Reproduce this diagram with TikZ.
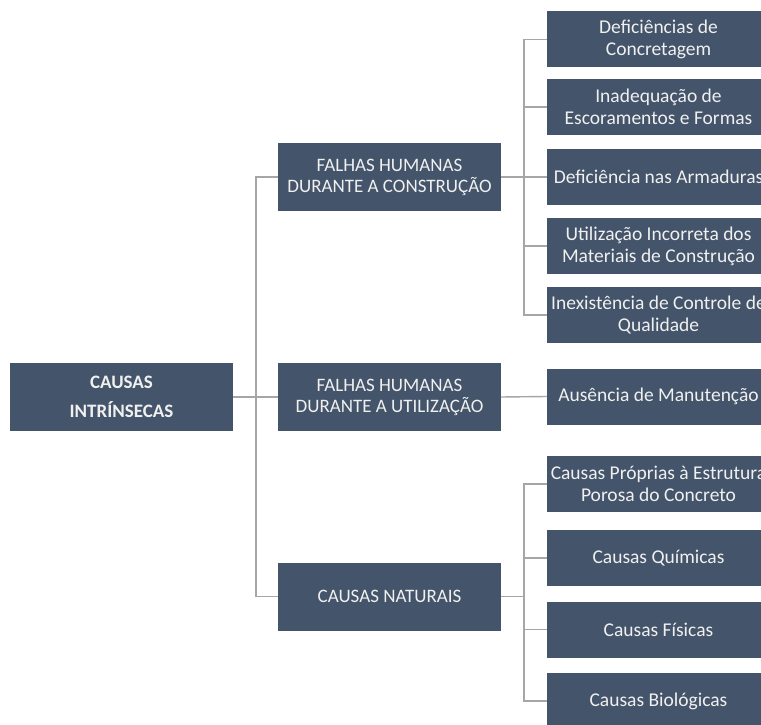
\documentclass[tikz,border=0pt]{standalone}
\usepackage{fontspec}
\setmainfont{Carlito}
\definecolor{boxfill}{HTML}{44546A}
\definecolor{boxtext}{HTML}{F0F0F0}
\definecolor{linegray}{HTML}{A6A6A6}
\begin{document}
\begin{tikzpicture}[x=1pt,y=-1pt,
  box/.style={rectangle, fill=boxfill, text=boxtext, minimum width=223pt, inner sep=0pt, align=center},
  rootbox/.style={box, minimum height=68pt, font=\fontsize{19}{29}\selectfont\bfseries},
  lonebox/.style={box, minimum height=68pt, font=\fontsize{19}{21}\selectfont},
  ltwobox/.style={box, minimum height=56pt, font=\fontsize{19.5}{22}\selectfont},
  conn/.style={draw=linegray, line width=1.4pt}]
\useasboundingbox (0,0) rectangle (761,725);
\clip (0,0) rectangle (761,725);
\fill[white] (0,0) rectangle (761,725);
\node[rootbox] (root) at (121.5,397) {CAUSAS\\INTRÍNSECAS};
\node[lonebox] (fa) at (389.5,177) {FALHAS HUMANAS\\DURANTE A CONSTRUÇÃO};
\node[lonebox] (fb) at (389.5,397) {FALHAS HUMANAS\\DURANTE A UTILIZAÇÃO};
\node[lonebox] (fc) at (389.5,596.5) {CAUSAS NATURAIS};
\node[ltwobox] (d1) at (658.5,39.5) {Deficiências de\\Concretagem};
\node[ltwobox] (d2) at (658.5,107) {Inadequação de\\Escoramentos e Formas};
\node[ltwobox] (d3) at (658.5,177) {Deficiência nas Armaduras};
\node[ltwobox] (d4) at (658.5,246) {Utilização Incorreta dos\\Materiais de Construção};
\node[ltwobox] (d5) at (658.5,315) {Inexistência de Controle de\\Qualidade};
\node[ltwobox] (u1) at (658.5,396.5) {Ausência de Manutenção};
\node[ltwobox] (n1) at (658.5,484) {Causas Próprias à Estrutura\\Porosa do Concreto};
\node[ltwobox] (n2) at (658.5,558) {Causas Químicas};
\node[ltwobox] (n3) at (658.5,629.5) {Causas Físicas};
\node[ltwobox] (n4) at (658.5,701) {Causas Biológicas};
\coordinate (j1) at (256,397);
\coordinate (j2) at (524,177);
\coordinate (j3) at (524,596.5);
\draw[conn] (root.east) -- (fb.west);
\draw[conn] (fa.west) -| (j1) |- (fc.west);
\draw[conn] (fa.east) -- (j2);
\draw[conn] (d1.west) -| (j2) |- (d5.west);
\draw[conn] (j2) |- (d2.west);
\draw[conn] (j2) |- (d3.west);
\draw[conn] (j2) |- (d4.west);
\draw[conn] (fb.east) -- (u1.west);
\draw[conn] (fc.east) -- (j3);
\draw[conn] (n1.west) -| (j3) |- (n4.west);
\draw[conn] (j3) |- (n2.west);
\draw[conn] (j3) |- (n3.west);
\end{tikzpicture}
\end{document}
